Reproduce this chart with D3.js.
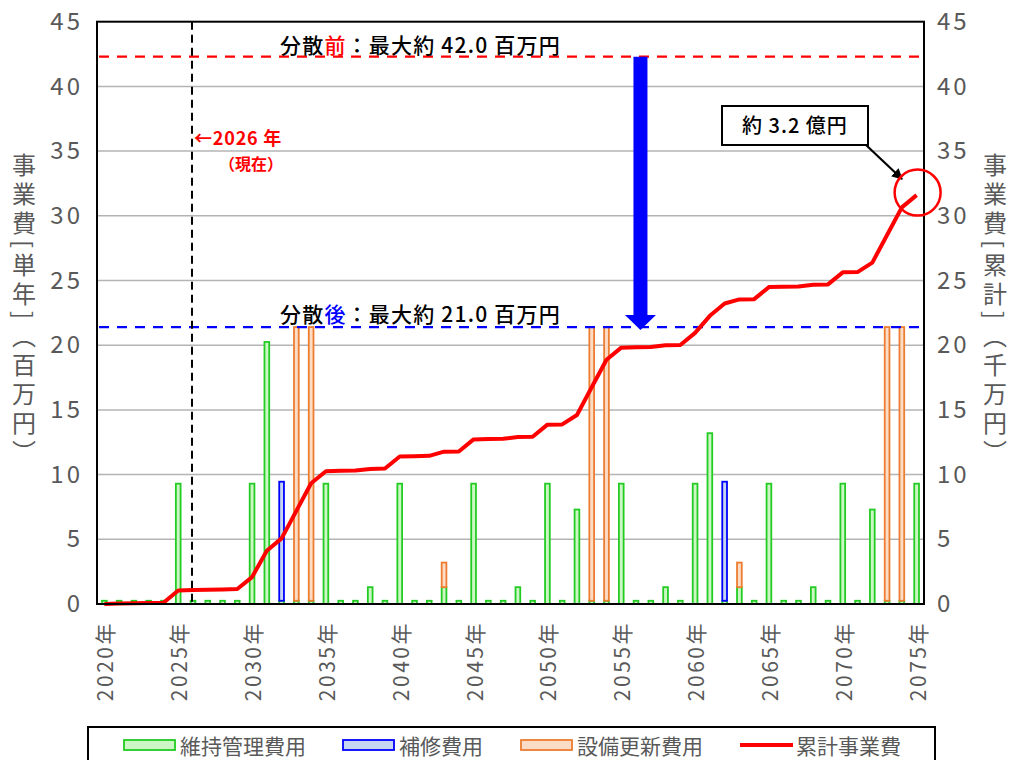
<!DOCTYPE html>
<html>
<head>
<meta charset="utf-8">
<script src="https://cdn.jsdelivr.net/npm/d3@7"></script>
<style>
    html, body { margin: 0; padding: 0; background: #fff; }
    svg { display: block; font-family: "Noto Sans CJK JP", "Noto Sans", sans-serif; }
</style>
</head>
<body>
<svg id="chart" width="1012" height="760"></svg>
<script>
'use strict';

//years on the category axis
var years = [
    2020, 2021, 2022, 2023, 2024, 2025, 2026, 2027, 2028, 2029,
    2030, 2031, 2032, 2033, 2034, 2035, 2036, 2037, 2038, 2039,
    2040, 2041, 2042, 2043, 2044, 2045, 2046, 2047, 2048, 2049,
    2050, 2051, 2052, 2053, 2054, 2055, 2056, 2057, 2058, 2059,
    2060, 2061, 2062, 2063, 2064, 2065, 2066, 2067, 2068, 2069,
    2070, 2071, 2072, 2073, 2074, 2075
];

//維持管理費用 (百万円)
var maintenance = [
    0.25, 0.25, 0.25, 0.25, 0.25, 9.3, 0.25, 0.25, 0.25, 0.25,
    9.3, 20.25, 0.25, 0.25, 0.25, 9.3, 0.25, 0.25, 1.3, 0.25,
    9.3, 0.25, 0.25, 1.3, 0.25, 9.3, 0.25, 0.25, 1.3, 0.25,
    9.3, 0.25, 7.3, 0.25, 0.25, 9.3, 0.25, 0.25, 1.3, 0.25,
    9.3, 13.2, 0.25, 1.3, 0.25, 9.3, 0.25, 0.25, 1.3, 0.25,
    9.3, 0.25, 7.3, 0.25, 0.25, 9.3
];

//補修費用 (百万円)
var repair = [
    0, 0, 0, 0, 0, 0, 0, 0, 0, 0,
    0, 0, 9.2, 0, 0, 0, 0, 0, 0, 0,
    0, 0, 0, 0, 0, 0, 0, 0, 0, 0,
    0, 0, 0, 0, 0, 0, 0, 0, 0, 0,
    0, 0, 9.2, 0, 0, 0, 0, 0, 0, 0,
    0, 0, 0, 0, 0, 0
];

//設備更新費用 (百万円)
var renewal = [
    0, 0, 0, 0, 0, 0, 0, 0, 0, 0,
    0, 0, 0, 21.15, 21.15, 0, 0, 0, 0, 0,
    0, 0, 0, 1.9, 0, 0, 0, 0, 0, 0,
    0, 0, 0, 21.15, 21.15, 0, 0, 0, 0, 0,
    0, 0, 0, 1.9, 0, 0, 0, 0, 0, 0,
    0, 0, 0, 21.15, 21.15, 0
];

//累計事業費 (千万円), right axis
var cumulative = [
    0.0, 0.03, 0.05, 0.08, 0.1, 1.05, 1.08, 1.1, 1.13, 1.16,
    2.08, 4.12, 5.07, 7.2, 9.33, 10.26, 10.29, 10.31, 10.44, 10.47,
    11.4, 11.42, 11.45, 11.77, 11.79, 12.72, 12.75, 12.77, 12.9, 12.93,
    13.86, 13.88, 14.61, 16.75, 18.88, 19.81, 19.84, 19.86, 19.99, 20.02,
    20.95, 22.27, 23.22, 23.54, 23.56, 24.49, 24.52, 24.54, 24.67, 24.7,
    25.63, 25.65, 26.38, 28.52, 30.65, 31.6
];

var yTicks = [0, 5, 10, 15, 20, 25, 30, 35, 40, 45];
var xTickYears = [2020, 2025, 2030, 2035, 2040, 2045, 2050, 2055, 2060, 2065, 2070, 2075];

//reference values
var maxBefore = 42.3,
    maxAfter = 21.4,
    nowYear = 2026,
    totalEnd = 31.8;

var seriesKeys = ['maintenance', 'repair', 'renewal'];
var seriesNames = ['維持管理費用', '補修費用', '設備更新費用', '累計事業費'];
var seriesStroke = { maintenance: '#22cc22', repair: '#0000ff', renewal: '#ed7d31' };
var seriesFill = { maintenance: '#ccf7c4', repair: '#c6d6f0', renewal: '#fbdcc6' };

var svg = d3.select('#chart'),
    margin = { left: 97, right: 924, top: 21.7, bottom: 604 },
    grey = '#595959';

//build table rows for the stack
var rows = years.map(function(y, i) {
    return { year: y, maintenance: maintenance[i], repair: repair[i], renewal: renewal[i] };
});

var x = d3.scaleBand()
        .domain(years)
        .range([margin.left, margin.right])
        .paddingInner(0.68)
        .paddingOuter(0.34),
    step = x.step(),
    xc = function(year) { return margin.left + (year - years[0] + 0.5) * step; },
    y = d3.scaleLinear().domain([0, 45]).range([margin.bottom, margin.top]),
    yR = d3.scaleLinear().domain([0, 45]).range([margin.bottom, margin.top]);

//gridlines
svg.append('g')
    .selectAll('line')
    .data(yTicks.filter(function(t) { return t > 0 && t < 45; }))
    .enter()
    .append('line')
    .attr('x1', margin.left)
    .attr('x2', margin.right)
    .attr('y1', function(d) { return y(d); })
    .attr('y2', function(d) { return y(d); })
    .attr('stroke', '#b4b4b4')
    .attr('stroke-width', 1.5);

//left axis
var leftAxis = svg.append('g')
    .attr('transform', 'translate(' + margin.left + ',0)')
    .call(d3.axisLeft(y).tickValues(yTicks).tickSize(0).tickPadding(14));
leftAxis.select('.domain').remove();
leftAxis.selectAll('text')
    .attr('fill', grey)
    .attr('font-size', 24)
    .attr('letter-spacing', 3)
    .attr('font-family', '"Noto Sans CJK JP", sans-serif');

//right axis
var rightAxis = svg.append('g')
    .attr('transform', 'translate(' + margin.right + ',0)')
    .call(d3.axisRight(yR).tickValues(yTicks).tickSize(0).tickPadding(13));
rightAxis.select('.domain').remove();
rightAxis.selectAll('text')
    .attr('fill', grey)
    .attr('font-size', 24)
    .attr('letter-spacing', 3)
    .attr('font-family', '"Noto Sans CJK JP", sans-serif');

//bottom tick labels, rotated
svg.append('g')
    .selectAll('text')
    .data(xTickYears)
    .enter()
    .append('text')
    .attr('transform', function(d) { return 'translate(' + xc(d) + ',621) rotate(-90)'; })
    .attr('text-anchor', 'end')
    .attr('dominant-baseline', 'central')
    .attr('fill', grey)
    .attr('font-size', 21)
    .attr('letter-spacing', 2.5)
    .text(function(d) { return d + '年'; });

//stacked bars
var stacked = d3.stack().keys(seriesKeys)(rows);
svg.append('g')
    .selectAll('g')
    .data(stacked)
    .enter()
    .append('g')
    .attr('fill', function(d) { return seriesFill[d.key]; })
    .attr('stroke', function(d) { return seriesStroke[d.key]; })
    .attr('stroke-width', 1.8)
    .selectAll('rect')
    .data(function(d) { return d.filter(function(p) { return p[1] - p[0] > 0; }); })
    .enter()
    .append('rect')
    .attr('x', function(d) { return x(d.data.year); })
    .attr('width', x.bandwidth())
    .attr('y', function(d) { return y(d[1]); })
    .attr('height', function(d) { return y(d[0]) - y(d[1]); });

//dashed reference lines
svg.append('line')
    .attr('x1', margin.left + 2).attr('x2', margin.right)
    .attr('y1', y(maxBefore)).attr('y2', y(maxBefore))
    .attr('stroke', '#ff0000').attr('stroke-width', 2.2)
    .attr('stroke-dasharray', '10,8');
svg.append('line')
    .attr('x1', margin.left + 2).attr('x2', margin.right)
    .attr('y1', y(maxAfter)).attr('y2', y(maxAfter))
    .attr('stroke', '#0000ff').attr('stroke-width', 2.2)
    .attr('stroke-dasharray', '10,8');

//current year marker
svg.append('line')
    .attr('x1', xc(nowYear) - 1).attr('x2', xc(nowYear) - 1)
    .attr('y1', margin.top).attr('y2', margin.bottom)
    .attr('stroke', '#000').attr('stroke-width', 2)
    .attr('stroke-dasharray', '8,5');

//cumulative line
var line = d3.line()
    .x(function(d, i) { return xc(years[i]); })
    .y(function(d) { return yR(d); });
svg.append('path')
    .datum(cumulative)
    .attr('d', line)
    .attr('fill', 'none')
    .attr('stroke', '#ff0000')
    .attr('stroke-width', 4)
    .attr('stroke-linejoin', 'round');

//blue down arrow between the two maxima
var ax = xc(2056.3),
    aTop = y(maxBefore),
    aTip = y(maxAfter) + 3;
svg.append('path')
    .attr('d', 'M' + (ax - 7) + ',' + aTop + 'V' + (aTip - 15) + 'H' + (ax - 15.5) +
        'L' + ax + ',' + aTip + 'L' + (ax + 15.5) + ',' + (aTip - 15) + 'H' + (ax + 7) + 'V' + aTop + 'Z')
    .attr('fill', '#0000ff');

//frame
svg.append('rect')
    .attr('x', margin.left).attr('y', margin.top)
    .attr('width', margin.right - margin.left)
    .attr('height', margin.bottom - margin.top)
    .attr('fill', 'none').attr('stroke', '#000').attr('stroke-width', 2);

//annotation texts
var before = svg.append('text')
    .attr('x', 280).attr('y', 53)
    .attr('font-size', 21).attr('font-weight', 500).attr('fill', '#000')
    .attr('letter-spacing', 1.2);
before.append('tspan').text('分散');
before.append('tspan').attr('fill', '#ff0000').text('前');
before.append('tspan').text('：最大約 42.0 百万円');

var after = svg.append('text')
    .attr('x', 280).attr('y', 322)
    .attr('font-size', 21).attr('font-weight', 500).attr('fill', '#000')
    .attr('letter-spacing', 1.2);
after.append('tspan').text('分散');
after.append('tspan').attr('fill', '#0000ff').text('後');
after.append('tspan').text('：最大約 21.0 百万円');

svg.append('text')
    .attr('x', 194).attr('y', 145)
    .attr('font-size', 18).attr('font-weight', 700).attr('fill', '#ff0000')
    .attr('letter-spacing', 0.8)
    .text('←2026 年');
svg.append('text')
    .attr('x', 219).attr('y', 170)
    .attr('font-size', 16).attr('font-weight', 700).attr('fill', '#ff0000')
    .text('（現在）');

//callout for the final total
svg.append('defs').append('marker')
    .attr('id', 'head')
    .attr('viewBox', '0 0 10 10')
    .attr('refX', 9).attr('refY', 5)
    .attr('markerWidth', 5).attr('markerHeight', 5)
    .attr('orient', 'auto')
    .append('path')
    .attr('d', 'M0,0L10,5L0,10Z')
    .attr('fill', '#000');
svg.append('line')
    .attr('x1', 866).attr('y1', 145)
    .attr('x2', 902).attr('y2', 179)
    .attr('stroke', '#000').attr('stroke-width', 2.2)
    .attr('marker-end', 'url(#head)');
svg.append('rect')
    .attr('x', 722).attr('y', 106).attr('width', 146).attr('height', 39)
    .attr('fill', '#fff').attr('stroke', '#000').attr('stroke-width', 2);
svg.append('text')
    .attr('x', 795).attr('y', 133)
    .attr('text-anchor', 'middle')
    .attr('font-size', 20).attr('font-weight', 500).attr('fill', '#000')
    .attr('letter-spacing', 1)
    .text('約 3.2 億円');
svg.append('circle')
    .attr('cx', xc(2075) + 1).attr('cy', yR(totalEnd))
    .attr('r', 23)
    .attr('fill', 'none').attr('stroke', '#ff0000').attr('stroke-width', 2.5);

//vertical axis titles
svg.append('text')
    .attr('x', 24).attr('y', 311)
    .attr('text-anchor', 'middle')
    .style('writing-mode', 'vertical-rl')
    .attr('font-size', 24).attr('fill', grey)
    .attr('letter-spacing', 5)
    .text('事業費[単年]（百万円）');
svg.append('text')
    .attr('x', 995).attr('y', 311)
    .attr('text-anchor', 'middle')
    .style('writing-mode', 'vertical-rl')
    .attr('font-size', 24).attr('fill', grey)
    .attr('letter-spacing', 5)
    .text('事業費[累計]（千万円）');

//legend
var legend = svg.append('g');
legend.append('rect')
    .attr('x', 88).attr('y', 727).attr('width', 847).attr('height', 60)
    .attr('fill', '#fff').attr('stroke', '#000').attr('stroke-width', 2);
var legendX = [124, 343, 521, 740];
seriesKeys.forEach(function(k, i) {
    legend.append('rect')
        .attr('x', legendX[i]).attr('y', 740).attr('width', 51).attr('height', 10)
        .attr('fill', seriesFill[k]).attr('stroke', seriesStroke[k]).attr('stroke-width', 1.8);
});
legend.append('line')
    .attr('x1', legendX[3]).attr('x2', legendX[3] + 53)
    .attr('y1', 745).attr('y2', 745)
    .attr('stroke', '#ff0000').attr('stroke-width', 4);
legend.selectAll('text.item')
    .data(seriesNames)
    .enter()
    .append('text')
    .attr('class', 'item')
    .attr('x', function(d, i) { return legendX[i] + 56; })
    .attr('y', 745)
    .attr('dominant-baseline', 'central')
    .attr('font-size', 21)
    .attr('fill', grey)
    .text(function(d) { return d; });
</script>
</body>
</html>
